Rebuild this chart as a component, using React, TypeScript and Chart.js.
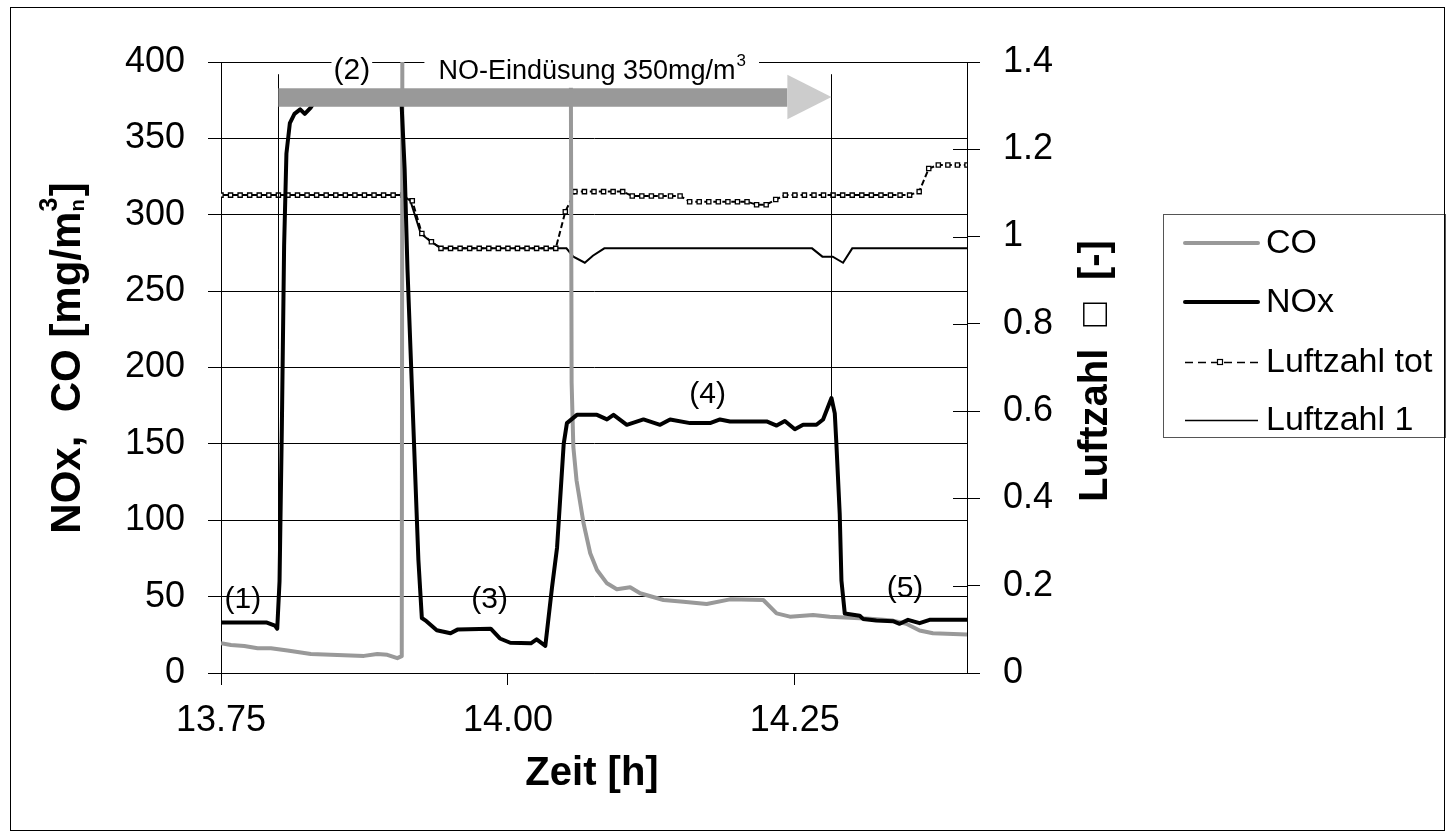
import React, { useEffect, useRef } from "react";
import { Chart, registerables } from "chart.js";

Chart.register(...registerables);

const FONT = "'Liberation Sans', Arial, Helvetica, sans-serif";

// ---- axes ----
const X_MIN = 13.75;
const X_MAX = 14.4;
const X_TICKS = [13.75, 14.0, 14.25];
const Y_MIN = 0;
const Y_MAX = 400;
const Y_STEP = 50;
const Y1_MIN = 0;
const Y1_MAX = 1.4;
const Y1_STEP = 0.2;

// ---- texts ----
const X_TITLE = "Zeit [h]";
const Y_TITLE_MAIN = "NOx,  CO [mg/m";
const Y_TITLE_SUB = "n";
const Y_TITLE_SUP = "3";
const Y_TITLE_END = "]";
const Y1_TITLE = "Luftzahl  \u25A1  [-]";
const SERIES = ["CO", "NOx", "Luftzahl tot", "Luftzahl 1"];
const INJECTION_TEXT = "NO-Eindüsung 350mg/m";
const INJECTION_SUP = "3";
const PHASE_LABELS = ["(1)", "(2)", "(3)", "(4)", "(5)"];
const PHASE_T = [13.769, 13.864, 13.984, 14.174, 14.346];
const PHASE_V = [48, 394, 48, 182, 55];
const INJECTION_TEXT_T = 14.073;
const INJECTION_TEXT_V = 394.5;

// ---- injection arrow (data units) ----
const INJ_START = 13.8;
const INJ_END = 14.2819;
const INJ_HEAD_START = 14.2435;
const INJ_LINE_TOP = 392;
const INJ_NOX_START = 31;
const INJ_NOX_END = 180;
const BAR_HI = 382.8;
const BAR_LO = 370.7;
const HEAD_HI = 391.6;
const HEAD_LO = 362.6;

// ---- CO [mg/m3] ----
const CO_T = [13.75, 13.7587, 13.7703, 13.7819, 13.7935, 13.808, 13.8283, 13.8746, 13.8862, 13.8949, 13.9036, 13.9075,
  13.9085, 14.0535, 14.0555, 14.057, 14.0598, 14.0659, 14.0717, 14.0776, 14.0863, 14.0949, 14.1065, 14.1152,
  14.1355, 14.1529, 14.1732, 14.1935, 14.2225, 14.2341, 14.2457, 14.2659, 14.2804, 14.3152, 14.3355, 14.3471,
  14.3587, 14.3703, 14.4];
const CO_V = [19.5, 18.3, 17.7, 16.2, 16.2, 14.7, 12.5, 11.2, 12.5, 11.9, 9.7, 11,
  800, 800, 190, 148, 126, 98, 78.4, 67.4, 58.7, 54.8, 56.1, 52.2,
  47.8, 46.7, 45.2, 48.2, 47.8, 39, 36.9, 38, 36.9, 35.5, 34.3, 32.2,
  27.8, 26, 25.2];

// ---- NOx [mg/m3] ----
const NOX_T = [13.75, 13.79, 13.797, 13.799, 13.801, 13.803, 13.805, 13.807, 13.81, 13.814, 13.819, 13.823, 13.828,
  13.835, 13.87, 13.907, 13.91, 13.9125, 13.922, 13.925, 13.928, 13.938, 13.95, 13.956, 13.985, 13.993, 14.002,
  14.02, 14.025, 14.0326, 14.0384, 14.0428, 14.0486, 14.0514, 14.0601, 14.0776, 14.0863, 14.092, 14.1036,
  14.1181, 14.1326, 14.1413, 14.1587, 14.1761, 14.1848, 14.1935, 14.2254, 14.2341, 14.2413, 14.25, 14.2572,
  14.2688, 14.2746, 14.2819, 14.2848, 14.2862, 14.2891, 14.2906, 14.2935, 14.3065, 14.3094, 14.321, 14.3355,
  14.3413, 14.3486, 14.3587, 14.3674, 14.4];
const NOX_V = [33, 33, 31, 29, 60, 160, 280, 340, 360, 366, 369, 366, 370,
  378, 380, 378, 330, 264, 74, 36, 34.5, 28, 26, 28.4, 29, 22.6, 19.8,
  19.4, 22, 17.8, 56, 82, 150, 163.6, 169, 169, 166, 169, 162.5,
  166, 162.5, 166, 163.6, 163.6, 166, 164.7, 164.7, 162, 165, 159.6, 162.5,
  162.5, 166, 180, 170, 150, 104, 60.5, 39, 37.5, 35.4, 34.3, 33.9,
  32.2, 34.8, 32.6, 34.8, 34.8];

// ---- Luftzahl tot [-], sampled every 30 s from 13.75 h ----
const LT_START = 13.75;
const LT_STEP = 0.5 / 60;
const LT_V = [
  1.095, 1.095, 1.095, 1.095, 1.095, 1.095, 1.095, 1.095, 1.095, 1.095,
  1.095, 1.095, 1.095, 1.095, 1.095, 1.095, 1.095, 1.095, 1.095, 1.095,
  1.082, 1.007, 0.988,
  0.973, 0.973, 0.973, 0.973, 0.973, 0.973, 0.973, 0.973, 0.973, 0.973, 0.973, 0.973, 0.973,
  1.057,
  1.103, 1.103, 1.103, 1.103, 1.103, 1.103,
  1.093, 1.093, 1.093, 1.093, 1.093, 1.093,
  1.08, 1.08, 1.08, 1.08, 1.08, 1.08, 1.08,
  1.073, 1.073,
  1.085,
  1.095, 1.095, 1.095, 1.095, 1.095, 1.095, 1.095, 1.095, 1.095, 1.095, 1.095, 1.095, 1.095, 1.095,
  1.103, 1.156,
  1.164, 1.164, 1.164, 1.164,
];

// ---- Luftzahl 1 [-] ----
const L1_T = [13.75, 13.908, 13.915, 13.924, 13.933, 13.942, 14.051, 14.057, 14.067, 14.074, 14.084, 14.265,
  14.274, 14.283, 14.292, 14.3, 14.4];
const L1_V = [1.095, 1.095, 1.082, 1.007, 0.988, 0.973, 0.973, 0.954, 0.94, 0.956, 0.973, 0.973,
  0.954, 0.954, 0.94, 0.973, 0.973];

const COLOR_CO = "#999999";
const COLOR_NOX = "#000000";

function pts(t: number[], v: number[]) {
  return t.map((x, i) => ({ x, y: v[i] }));
}

const decor = {
  id: "decor",
  afterDatasetsDraw(chart: any) {
    const ctx: CanvasRenderingContext2D = chart.ctx;
    const xs = chart.scales.x;
    const ys = chart.scales.y;
    const y1 = chart.scales.y1;
    const X = (v: number) => xs.getPixelForValue(v);
    const Y = (v: number) => ys.getPixelForValue(v);
    ctx.save();

    // right axis inner tick halves
    ctx.strokeStyle = "#000";
    ctx.lineWidth = 1;
    y1.ticks.forEach((t: any) => {
      const py = Math.round(y1.getPixelForValue(t.value)) + 0.5;
      ctx.beginPath();
      ctx.moveTo(y1.left - 14, py);
      ctx.lineTo(y1.left, py);
      ctx.stroke();
    });

    // injection window lines
    ctx.beginPath();
    ctx.moveTo(Math.round(X(INJ_START)) + 0.5, Y(INJ_LINE_TOP));
    ctx.lineTo(Math.round(X(INJ_START)) + 0.5, Y(INJ_NOX_START));
    ctx.moveTo(Math.round(X(INJ_END)) + 0.5, Y(INJ_LINE_TOP));
    ctx.lineTo(Math.round(X(INJ_END)) + 0.5, Y(INJ_NOX_END));
    ctx.stroke();

    // arrow bar + head
    ctx.fillStyle = "#999999";
    ctx.fillRect(X(INJ_START), Y(BAR_HI), X(INJ_HEAD_START) - X(INJ_START), Y(BAR_LO) - Y(BAR_HI));
    ctx.fillStyle = "#cccccc";
    ctx.beginPath();
    ctx.moveTo(X(INJ_HEAD_START), Y(HEAD_HI));
    ctx.lineTo(X(INJ_END), (Y(HEAD_HI) + Y(HEAD_LO)) / 2);
    ctx.lineTo(X(INJ_HEAD_START), Y(HEAD_LO));
    ctx.closePath();
    ctx.fill();

    // injection text with white background
    ctx.font = `27px ${FONT}`;
    const wMain = ctx.measureText(INJECTION_TEXT).width;
    ctx.font = `17px ${FONT}`;
    const wSup = ctx.measureText(INJECTION_SUP).width;
    const tw = wMain + wSup;
    const cx = X(INJECTION_TEXT_T);
    const cy = Y(INJECTION_TEXT_V);
    ctx.fillStyle = "#fff";
    ctx.fillRect(cx - tw / 2 - 14, cy - 18, tw + 28, Y(BAR_HI) - (cy - 18) - 0.5);
    ctx.fillStyle = "#000";
    ctx.textBaseline = "alphabetic";
    ctx.textAlign = "left";
    ctx.font = `27px ${FONT}`;
    ctx.fillText(INJECTION_TEXT, cx - tw / 2, cy + 9);
    ctx.font = `17px ${FONT}`;
    ctx.fillText(INJECTION_SUP, cx - tw / 2 + wMain + 1, cy - 4);

    // phase labels
    ctx.font = `30px ${FONT}`;
    ctx.textAlign = "center";
    ctx.textBaseline = "middle";
    PHASE_LABELS.forEach((lab, i) => {
      const px = X(PHASE_T[i]);
      const py = Y(PHASE_V[i]);
      if (i === 1) {
        const w = ctx.measureText(lab).width;
        ctx.fillStyle = "#fff";
        ctx.fillRect(px - w / 2 - 2, py - 10, w + 4, 16);
      }
      ctx.fillStyle = "#000";
      ctx.fillText(lab, px, py);
    });
    ctx.restore();
  },
  afterDraw(chart: any) {
    const ctx: CanvasRenderingContext2D = chart.ctx;
    ctx.save();
    ctx.fillStyle = "#000";

    // x title
    ctx.font = `bold 40px ${FONT}`;
    ctx.textAlign = "center";
    ctx.textBaseline = "alphabetic";
    ctx.fillText(X_TITLE, 592, 785);

    // left title (rotated)
    ctx.save();
    ctx.translate(65, 358);
    ctx.rotate(-Math.PI / 2);
    ctx.textAlign = "left";
    ctx.font = `bold 42px ${FONT}`;
    const wm = ctx.measureText(Y_TITLE_MAIN).width;
    const we = ctx.measureText(Y_TITLE_END).width;
    ctx.font = `bold 25px ${FONT}`;
    const ws = Math.max(ctx.measureText(Y_TITLE_SUB).width, ctx.measureText(Y_TITLE_SUP).width);
    const x0 = -(wm + ws + we) / 2;
    const base = 15;
    ctx.font = `bold 42px ${FONT}`;
    ctx.fillText(Y_TITLE_MAIN, x0, base);
    ctx.font = `bold 20px ${FONT}`;
    ctx.fillText(Y_TITLE_SUB, x0 + wm, base + 4);
    ctx.font = `bold 25px ${FONT}`;
    ctx.fillText(Y_TITLE_SUP, x0 + wm, base - 23);
    ctx.font = `bold 42px ${FONT}`;
    ctx.fillText(Y_TITLE_END, x0 + wm + ws, base);
    ctx.restore();

    // right title (rotated)
    ctx.save();
    ctx.translate(1093, 371);
    ctx.rotate(-Math.PI / 2);
    ctx.textAlign = "center";
    ctx.font = `bold 40px ${FONT}`;
    ctx.fillText(Y1_TITLE, 0, 14);
    ctx.restore();

    // legend
    const lx = 1163.5, ly = 214.5, lw = 282, lh = 223;
    ctx.strokeStyle = "#555";
    ctx.lineWidth = 1;
    ctx.strokeRect(lx, ly, lw, lh);
    const rows = [243, 302, 362, 420];
    const l0 = 1185, l1 = 1258;
    ctx.lineCap = "round";
    ctx.strokeStyle = COLOR_CO;
    ctx.lineWidth = 4;
    ctx.beginPath(); ctx.moveTo(l0, rows[0]); ctx.lineTo(l1, rows[0]); ctx.stroke();
    ctx.strokeStyle = COLOR_NOX;
    ctx.beginPath(); ctx.moveTo(l0, rows[1]); ctx.lineTo(l1, rows[1]); ctx.stroke();
    ctx.lineCap = "butt";
    ctx.lineWidth = 1.5;
    ctx.setLineDash([8, 5]);
    ctx.beginPath(); ctx.moveTo(l0, rows[2] + 0.5); ctx.lineTo(l1, rows[2] + 0.5); ctx.stroke();
    ctx.setLineDash([]);
    ctx.fillStyle = "#fff";
    ctx.lineWidth = 1.2;
    ctx.fillRect(1217.5, rows[2] - 2.5, 5, 5);
    ctx.strokeRect(1217.5, rows[2] - 2.5, 5, 5);
    ctx.lineWidth = 1.5;
    ctx.beginPath(); ctx.moveTo(l0, rows[3] + 0.5); ctx.lineTo(l1, rows[3] + 0.5); ctx.stroke();
    ctx.fillStyle = "#000";
    ctx.font = `34px ${FONT}`;
    ctx.textAlign = "left";
    ctx.textBaseline = "middle";
    SERIES.forEach((s, i) => ctx.fillText(s, 1266, rows[i] + 1));

    // outer frame
    ctx.strokeStyle = "#000";
    ctx.lineWidth = 1;
    ctx.strokeRect(10.5, 7.5, 1434, 823);
    ctx.restore();
  },
};

export default function App() {
  const ref = useRef<HTMLCanvasElement | null>(null);
  useEffect(() => {
    if (!ref.current) return;
    const ltPoints = LT_V.map((v, k) => ({ x: LT_START + k * LT_STEP, y: v }));
    const tickFont = { family: FONT, size: 36 };
    const chart = new Chart(ref.current, {
      type: "line",
      data: {
        datasets: [
          {
            label: SERIES[1], data: pts(NOX_T, NOX_V), yAxisID: "y", borderColor: COLOR_NOX,
            borderWidth: 4, pointRadius: 0, tension: 0, order: 0, borderJoinStyle: "round",
          },
          {
            label: SERIES[0], data: pts(CO_T, CO_V), yAxisID: "y", borderColor: COLOR_CO,
            borderWidth: 4, pointRadius: 0, tension: 0, order: 1, borderJoinStyle: "round",
          },
          {
            label: SERIES[2], data: ltPoints, yAxisID: "y1", borderColor: "#000",
            borderWidth: 2, borderDash: [6, 3], pointStyle: "rect", pointRadius: 3,
            pointBackgroundColor: "#fff", pointBorderColor: "#000", pointBorderWidth: 1.3, tension: 0, order: 2,
          },
          {
            label: SERIES[3], data: pts(L1_T, L1_V), yAxisID: "y1", borderColor: "#000",
            borderWidth: 2, pointRadius: 0, tension: 0, order: 3,
          },
        ] as any,
      },
      options: {
        responsive: false,
        maintainAspectRatio: false,
        animation: false,
        devicePixelRatio: 1,
        layout: { padding: { top: 62, left: 0, right: 0, bottom: 0 } },
        plugins: { legend: { display: false }, tooltip: { enabled: false } },
        scales: {
          x: {
            type: "linear", min: X_MIN, max: X_MAX,
            afterBuildTicks: (s: any) => { s.ticks = X_TICKS.map((v) => ({ value: v })); },
            afterFit: (s: any) => { s.height = 837 - 673; },
            ticks: { font: tickFont, color: "#000", padding: 14, maxRotation: 0, autoSkip: false,
              callback: (v: any) => Number(v).toFixed(2) },
            grid: { drawOnChartArea: false, drawTicks: true, tickLength: 12, color: "#000", lineWidth: 1 },
            border: { color: "#000", width: 1 },
          },
          y: {
            type: "linear", position: "left", min: Y_MIN, max: Y_MAX,
            afterFit: (s: any) => { s.width = 221; },
            ticks: { stepSize: Y_STEP, font: tickFont, color: "#000", padding: 23 },
            grid: { drawOnChartArea: true, drawTicks: true, tickLength: 13, color: "#000", lineWidth: 1 },
            border: { color: "#000", width: 1 },
          },
          y1: {
            type: "linear", position: "right", min: Y1_MIN, max: Y1_MAX,
            afterFit: (s: any) => { s.width = 1446 - 967; },
            ticks: { stepSize: Y1_STEP, font: tickFont, color: "#000", padding: 23,
              callback: (v: any) => String(Math.round(Number(v) * 10) / 10) },
            grid: { drawOnChartArea: false, drawTicks: true, tickLength: 13, color: "#000", lineWidth: 1 },
            border: { color: "#000", width: 1 },
          },
        },
      } as any,
      plugins: [decor],
    });
    return () => chart.destroy();
  }, []);
  return (
    <div style={{ position: "absolute", left: 0, top: 0, width: 1446, height: 837, background: "#fff" }}>
      <canvas ref={ref} width={1446} height={837} style={{ display: "block", width: 1446, height: 837 }} />
    </div>
  );
}
